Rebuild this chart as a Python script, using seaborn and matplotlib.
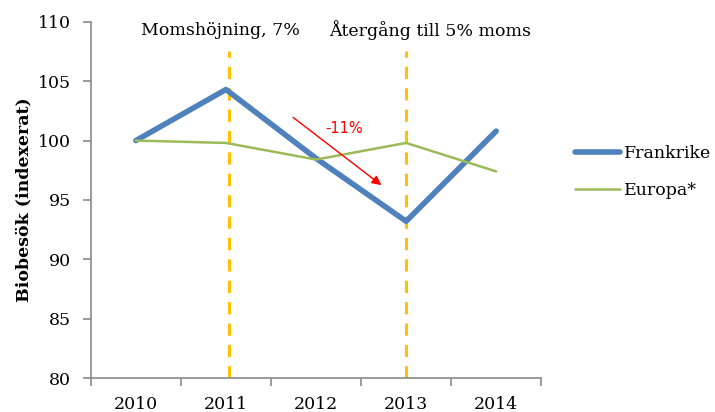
import pandas as pd
import numpy as np
import matplotlib
matplotlib.use("Agg")
import matplotlib.pyplot as plt
import seaborn as sns

sns.set_style("white")
plt.rcParams['font.family'] = ['DejaVu Serif']
plt.rcParams['text.color'] = 'black'
plt.rcParams['axes.labelcolor'] = 'black'
plt.rcParams['xtick.color'] = 'black'
plt.rcParams['ytick.color'] = 'black'

# data
years = ["2010", "2011", "2012", "2013", "2014"]
frankrike = [100.0, 104.3, 98.5, 93.2, 100.8]
europa = [100.0, 99.8, 98.4, 99.8, 97.4]

df = pd.DataFrame({
    "pos": np.arange(len(years)),
    "Frankrike": frankrike,
    "Europa*": europa,
})

fig = plt.figure(figsize=(7.15, 4.12), dpi=100)
ax = fig.add_axes([0.127, 0.0825, 0.63, 0.8645])

sns.lineplot(data=df, x="pos", y="Frankrike", ax=ax, color="#4F81BD",
             linewidth=4, label="Frankrike", solid_capstyle="round")
sns.lineplot(data=df, x="pos", y="Europa*", ax=ax, color="#9BBB59",
             linewidth=1.8, label="Europa*")

# vat change markers
for xv in [1.03, 3.0]:
    ax.axvline(xv, ymax=0.917, color="#FFC000", linestyle=(0, (4, 3)),
               linewidth=2.2, zorder=0)

ax.text(0.94, 109.3, "Momshöjning, 7%", ha="center", va="center", fontsize=12.5)
ax.text(3.27, 109.3, "Återgång till 5% moms", ha="center", va="center", fontsize=12.5)

ax.annotate("", xy=(2.75, 96.1), xytext=(1.72, 102.1),
            arrowprops=dict(arrowstyle="-|>", color="red", lw=1.0, mutation_scale=14))
ax.text(2.31, 101.0, "-11%", color="red", fontsize=10.5, ha="center", va="center",
        family=["DejaVu Sans"])

ax.set_xlim(-0.5, 4.5)
ax.set_ylim(80, 110)
ax.set_yticks(np.arange(80, 111, 5))
ax.set_xticks(np.arange(len(years)))
ax.set_xticklabels(years)
ax.set_xticks(np.arange(-0.5, 4.6, 1), minor=True)
ax.tick_params(axis="x", which="major", bottom=True, length=0, labelsize=12.5, pad=13)
ax.tick_params(axis="x", which="minor", bottom=True, length=6, width=1.2,
               color="#898989", direction="out")
ax.tick_params(axis="y", left=True, length=6, width=1.2, color="#898989",
               direction="out", labelsize=12.5, pad=8)
ax.set_xlabel("")
ax.set_ylabel("Biobesök (indexerat)", fontsize=12.5, fontweight="bold", labelpad=4)

sns.despine(ax=ax)
for s in ["left", "bottom"]:
    ax.spines[s].set_color("#898989")
    ax.spines[s].set_linewidth(1.2)

ax.legend(loc="center left", bbox_to_anchor=(1.04, 0.578), frameon=False,
          fontsize=12.5, handlelength=2.6, labelspacing=1.15, handletextpad=0.2)

fig.savefig("out.png", dpi=100)
